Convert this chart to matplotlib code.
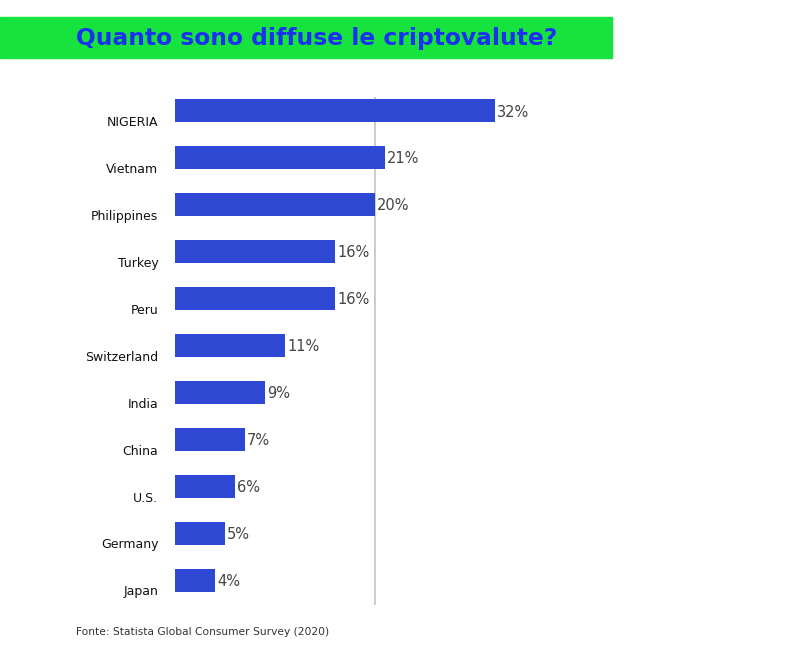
import matplotlib.pyplot as plt
from matplotlib.patches import Rectangle

countries = ["NIGERIA", "Vietnam", "Philippines", "Turkey", "Peru",
             "Switzerland", "India", "China", "U.S.", "Germany", "Japan"]
values = [32, 21, 20, 16, 16, 11, 9, 7, 6, 5, 4]
value_labels = ["32%", "21%", "20%", "16%", "16%", "11%", "9%", "7%", "6%", "5%", "4%"]

W, H = 789, 647
fig = plt.figure(figsize=(W / 100, H / 100), dpi=100)

# title banner
fig.patches.append(Rectangle((0, 1 - 58 / H), 612 / W, 41 / H,
                             transform=fig.transFigure, color="#17e33f", zorder=0))
fig.text(317 / W, 1 - 38 / H, "Quanto sono diffuse le criptovalute?",
         ha="center", va="center", fontsize=16.8, fontweight="bold",
         color="#1a32f0", family="DejaVu Sans")

# axes: x=0 at px 175, 10 px per %
left, right = 175, 775
top, bottom = 97, 605
ax = fig.add_axes([left / W, 1 - bottom / H, (right - left) / W, (bottom - top) / H])
ax.set_xlim(0, (right - left) / 10)
ax.set_ylim(10.53, -0.29)

pos = list(range(len(countries)))
ax.barh(pos, values, height=0.49, color="#2e48d4", zorder=2)
ax.axvline(20, color="#c4c4c4", lw=1.2, zorder=1)

for i, (c, v, lab) in enumerate(zip(countries, values, value_labels)):
    ax.annotate(c, xy=(0, i), xycoords=("axes fraction", "data"),
                xytext=(-12, -8.5), textcoords="offset points",
                ha="right", va="center", fontsize=9, color="#111111")
    ax.annotate(lab, xy=(v, i), xytext=(1.5, -1), textcoords="offset points",
                ha="left", va="center", fontsize=10.5, color="#444444")

for s in ax.spines.values():
    s.set_visible(False)
ax.set_xticks([])
ax.set_yticks([])

fig.text(76 / W, 1 - 632 / H, "Fonte: Statista Global Consumer Survey (2020)",
         ha="left", va="center", fontsize=7.7, color="#333333")

fig.savefig("out.png", dpi=100)
